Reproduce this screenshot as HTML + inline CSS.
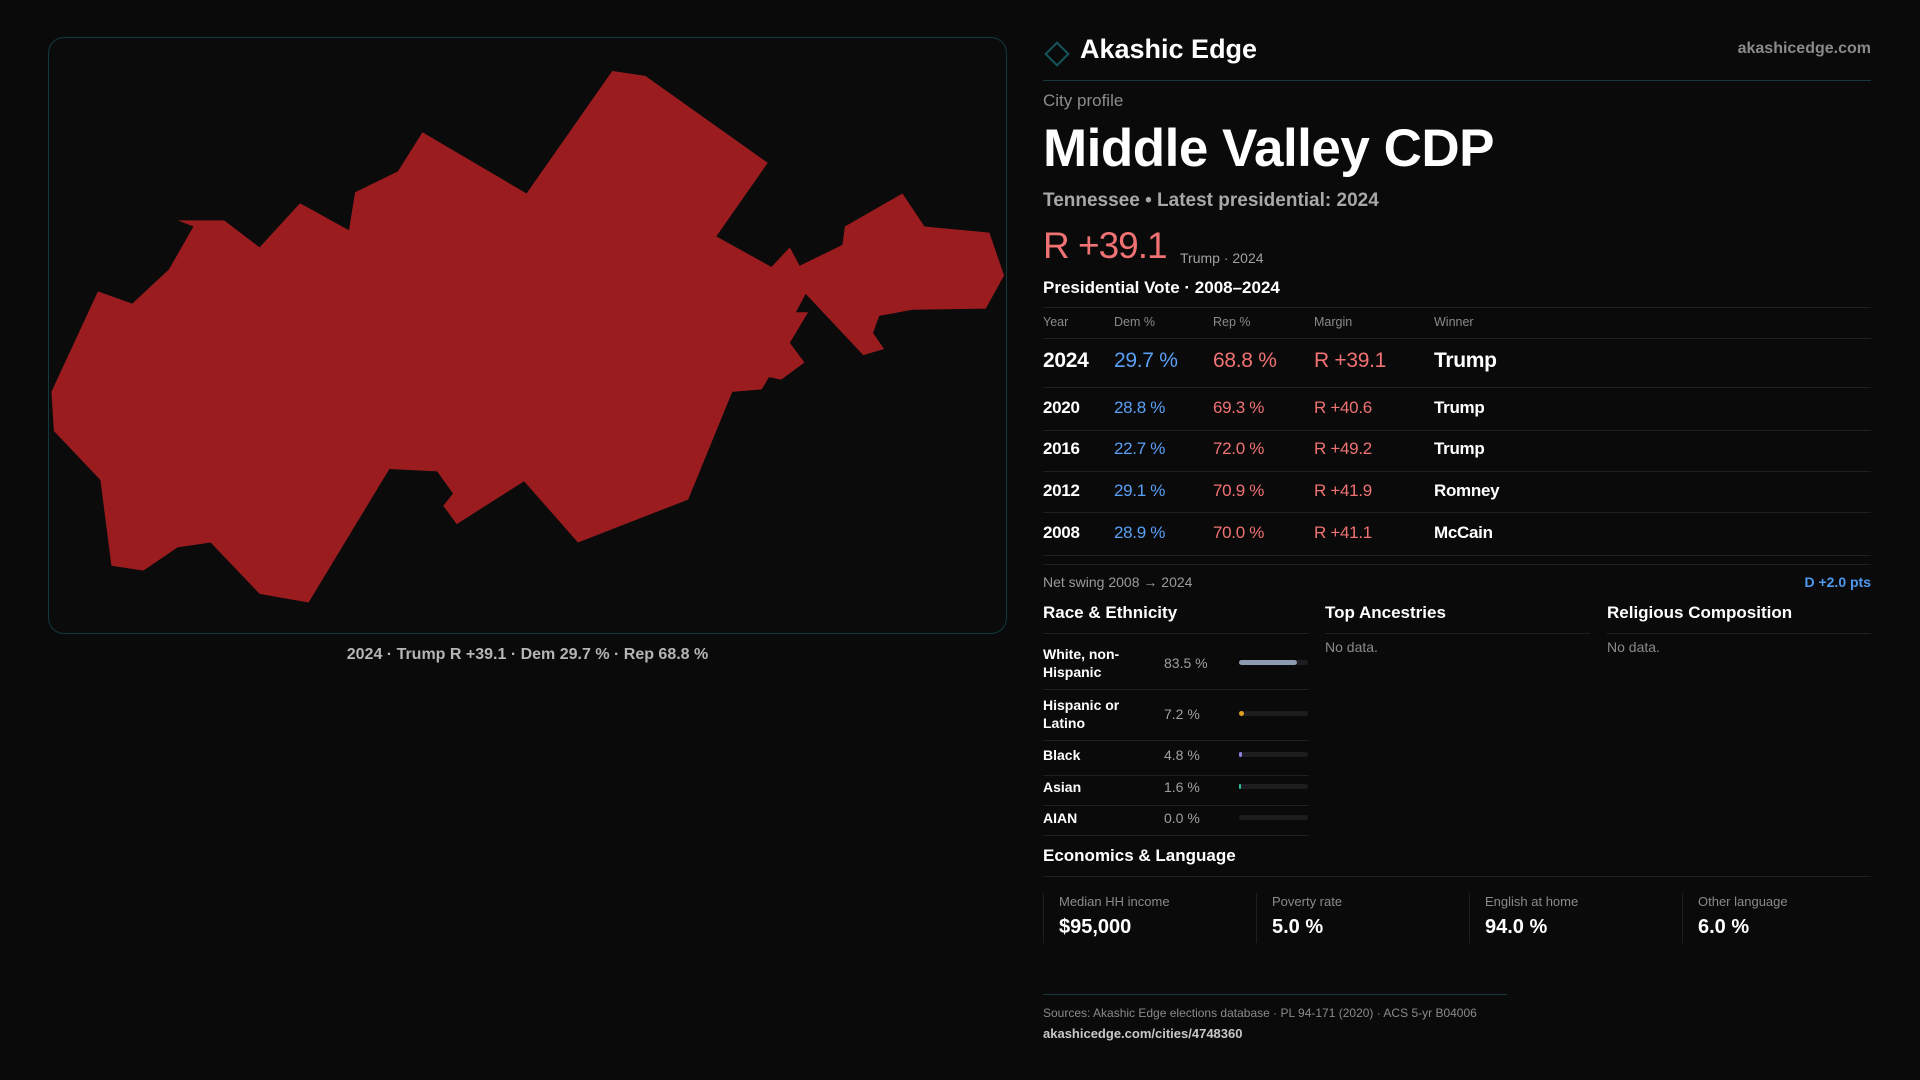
<!DOCTYPE html>
<html><head><meta charset="utf-8">
<style>
*{margin:0;padding:0;box-sizing:border-box}
body{width:1920px;height:1080px;background:#0a0a0b;font-family:"Liberation Sans",sans-serif;color:#fff;position:relative;overflow:hidden}
.a{position:absolute;white-space:nowrap}
.ln{position:absolute;height:1px;background:#1f1f22}
.g{color:#8c8c8c}
</style></head><body>
<div class="a" style="left:48px;top:37px;width:959px;height:597px;border:1px solid #123a3e;border-radius:16px;background:#0b0b0c"></div>
<svg class="a" style="left:0;top:0" width="1920" height="1080" viewBox="0 0 1568 882">
<polygon fill="#9b1c1f" points="500,58 527,62 627,133 585,193 630,218 645,202 653,217 688,200 690,185 737,158 755,185 808,190 820,225 805,252 745,253 718,258 713,272 722,285 705,290 658,240 650,255 660,255 645,280 657,296 638,310 628,308 622,318 598,320 562,408 472,443 428,393 373,428 362,413 370,403 357,385 318,383 252,492 212,485 172,443 145,447 117,466 91,462 82,392 44,352 42,320 80,238 108,248 138,220 158,185 145,180 183,180 212,202 245,166 285,188 290,157 325,140 345,108 430,158"/>
</svg>
<div class="a" style="left:48px;width:959px;top:646px;text-align:center;font-size:16px;color:#b5b5b5;font-weight:bold">2024 · Trump R +39.1 · Dem 29.7 % · Rep 68.8 %</div>

<div class="a" style="left:1048px;top:45px;width:18px;height:18px;border:2px solid #14545a;transform:rotate(45deg)"></div>
<div class="a" style="left:1080px;top:34px;font-size:27px;font-weight:bold">Akashic Edge</div>
<div class="a g" style="right:49px;top:40px;font-size:16px;font-weight:bold;color:#8a8a8a">akashicedge.com</div>
<div class="ln" style="left:1043px;width:828px;top:80px;background:#17393e"></div>
<div class="a g" style="left:1043px;top:91px;font-size:17px">City profile</div>
<div class="a" style="left:1043px;top:118px;font-size:53px;font-weight:bold;letter-spacing:-0.5px">Middle Valley CDP</div>
<div class="a" style="left:1043px;top:190px;font-size:19px;font-weight:bold;color:#a8a8a8">Tennessee • Latest presidential: 2024</div>
<div class="a" style="left:1043px;top:225px;font-size:37px;color:#f07272;letter-spacing:-1px">R +39.1</div>
<div class="a g" style="left:1180px;top:250px;font-size:14px;color:#a0a0a0">Trump · 2024</div>
<div class="a" style="left:1043px;top:278px;font-size:17px;font-weight:bold">Presidential Vote · 2008–2024</div>
<div class="ln" style="left:1043px;width:828px;top:307px"></div>
<div id="tbl"></div>
<div class="ln" style="left:1043px;width:828px;top:564px"></div>
<div class="a g" style="left:1043px;top:574px;font-size:14px;color:#9a9a9a">Net swing 2008 → 2024</div>
<div class="a" style="right:49px;top:574px;font-size:14px;color:#4e9af0;font-weight:bold">D +2.0 pts</div>

<div class="a" style="left:1043px;top:603px;font-size:17px;font-weight:bold">Race &amp; Ethnicity</div>
<div class="a" style="left:1325px;top:603px;font-size:17px;font-weight:bold">Top Ancestries</div>
<div class="a" style="left:1607px;top:603px;font-size:17px;font-weight:bold">Religious Composition</div>
<div class="ln" style="left:1043px;width:266px;top:633px"></div>
<div class="ln" style="left:1325px;width:265px;top:633px"></div>
<div class="ln" style="left:1607px;width:264px;top:633px"></div>
<div class="a g" style="left:1325px;top:639px;font-size:14px;color:#8a8a8a">No data.</div>
<div class="a g" style="left:1607px;top:639px;font-size:14px;color:#8a8a8a">No data.</div>
<div id="race"></div>

<div class="a" style="left:1043px;top:846px;font-size:17px;font-weight:bold">Economics &amp; Language</div>
<div class="ln" style="left:1043px;width:828px;top:876px"></div>
<div id="stats"></div>

<div class="ln" style="left:1043px;width:464px;top:994px;background:#17393e"></div>
<div class="a g" style="left:1043px;top:1006px;font-size:12px;color:#8a8a8a">Sources: Akashic Edge elections database · PL 94-171 (2020) · ACS 5-yr B04006</div>
<div class="a" style="left:1043px;top:1026px;font-size:13px;color:#c8c8c8;font-weight:bold">akashicedge.com/cities/4748360</div>

<script>
const years=["2024","2020","2016","2012","2008"];
const demPct=[29.7,28.8,22.7,29.1,28.9];
const repPct=[68.8,69.3,72.0,70.9,70.0];
const margins=[39.1,40.6,49.2,41.9,41.1];
const winners=["Trump","Trump","Trump","Romney","McCain"];
const raceLabels=["White, non-Hispanic","Hispanic or Latino","Black","Asian","AIAN"];
const racePct=[83.5,7.2,4.8,1.6,0.0];
const raceColors=["#8b9bb0","#e0a020","#9080e0","#30c0a0","#666"];
const statLabels=["Median HH income","Poverty rate","English at home","Other language"];
const statValues=["$95,000","5.0 %","94.0 %","6.0 %"];

function el(html,parent){const d=document.createElement('div');d.className='a';d.innerHTML=html;parent.appendChild(d);return d;}
const tbl=document.getElementById('tbl');
const cols=[1043,1114,1213,1314,1434];
["Year","Dem %","Rep %","Margin","Winner"].forEach((h,i)=>{
  const d=el(h,tbl);d.style.cssText+=`left:${cols[i]}px;top:315px;font-size:12.5px;color:#8a8a8a`;
  
  
});
const hr=document.createElement('div');hr.className='ln';hr.style.cssText='left:1043px;width:828px;top:338px';tbl.appendChild(hr);


const rowMid=[362,408,449,491,533];const rowLine=[387,430,471,512,555];
years.forEach((y,i)=>{
  const fs=i==0?21:17;
  const vals=[y,demPct[i].toFixed(1)+' %',repPct[i].toFixed(1)+' %','R +'+margins[i].toFixed(1),winners[i]];
  const colr=['#fff','#5aa0f5','#f07272','#f07272','#fff'];
  vals.forEach((v,j)=>{
    const d=el(v,tbl);d.style.cssText+=`left:${cols[j]}px;top:${rowMid[i]-fs*0.6}px;font-size:${fs}px;color:${colr[j]};font-weight:${j==0||j==4?'bold':'normal'};letter-spacing:-0.3px`;
    
    
  });
  const l=document.createElement('div');l.className='ln';l.style.cssText=`left:1043px;width:828px;top:${rowLine[i]}px`;tbl.appendChild(l);
  
  
});
const race=document.getElementById('race');
const rMid=[663,714,755,787,818];const rLine=[689,740,775,805,835];
const barX=1239,barW=69;
raceLabels.forEach((lab,i)=>{
  const two=i<2;
  const L=el(i==0?'White, non-<br>Hispanic':(i==1?'Hispanic or<br>Latino':lab),race);
  L.style.cssText+=`left:1043px;top:${rMid[i]-(two?18:9)}px;font-size:14px;font-weight:bold;line-height:18px;white-space:normal;width:110px`;
  
  
  const p=el(racePct[i].toFixed(1)+' %',race);p.style.cssText+=`left:1164px;top:${rMid[i]-8}px;font-size:14px;color:#a0a0a0`;
  
  
  const t=el('',race);t.style.cssText+=`left:${barX}px;top:${rMid[i]-3}px;width:${barW}px;height:5px;border-radius:3px;background:#1d1d20`;
  
  
  const f=el('',race);f.style.cssText+=`left:${barX}px;top:${rMid[i]-3}px;width:${Math.max(racePct[i]/100*barW,racePct[i]>0?2:0)}px;height:5px;border-radius:3px;background:${raceColors[i]}`;
  
  
  const l=document.createElement('div');l.className='ln';l.style.cssText=`left:1043px;width:266px;top:${rLine[i]}px`;race.appendChild(l);
  
  
});
const stats=document.getElementById('stats');
statLabels.forEach((s,i)=>{
  const x=1043+i*213;
  const b=el('',stats);b.style.cssText+=`left:${x}px;top:893px;width:1px;height:50px;background:#1f1f22`;
  
  
  const l=el(s,stats);l.style.cssText+=`left:${x+16}px;top:894px;font-size:13px;color:#8a8a8a`;
  
  
  const v=el(statValues[i],stats);v.style.cssText+=`left:${x+16}px;top:916px;font-size:20px;font-weight:bold`;
  
  
});
</script>
</body></html>
